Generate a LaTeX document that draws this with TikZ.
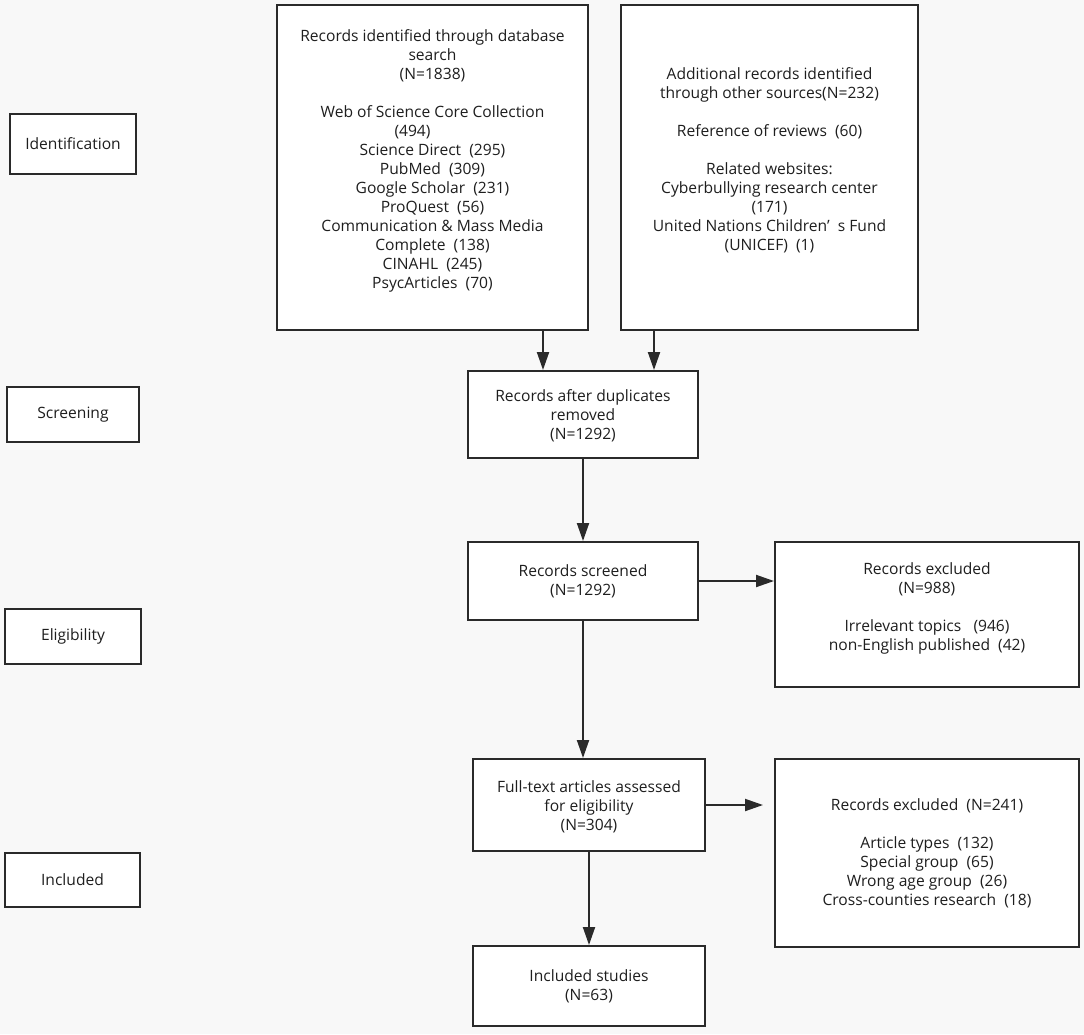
\documentclass[tikz,border=0pt]{standalone}
\usepackage{fontspec}
\setmainfont{Open Sans}
\usetikzlibrary{arrows.meta}
\definecolor{bg}{HTML}{F8F8F8}
\definecolor{ln}{HTML}{2A2A2A}
\definecolor{tx}{HTML}{1E1E1E}
\begin{document}
\begin{tikzpicture}[x=1pt,y=-1pt,
  box/.style={draw=ln, line width=2pt, fill=white, inner sep=0pt, text=tx,
    align=center, font={\fontsize{15.6}{19}\selectfont}},
  txt/.style={text=tx, align=center, inner sep=0pt, font={\fontsize{15.6}{19}\selectfont}},
  arr/.style={draw=ln, line width=2pt, -{Triangle[length=18pt,width=12pt]}}]
\fill[bg] (0,0) rectangle (1084,1034);
\useasboundingbox (0,0) rectangle (1084,1034);
% stage labels
\node[box, minimum width=126pt, minimum height=60pt] (sid) at (73,144) {Identification};
\node[box, minimum width=132pt, minimum height=55pt] (sscr) at (73,414.5) {Screening};
\node[box, minimum width=136pt, minimum height=55pt] (sel) at (73,636.5) {Eligibility};
\node[box, minimum width=135pt, minimum height=54pt] (sinc) at (72.5,880) {Included};
% flow boxes
\node[box, minimum width=311pt, minimum height=325pt] (db) at (432.5,167.5) {};
\node[txt] (dbt) at (432.5,161) {Records identified through database\\search\\(N=1838)\\[19pt]Web of Science Core Collection\\(494)\hspace{40pt}\mbox{}\\Science Direct~~(295)\\PubMed~~(309)\\Google Scholar~~(231)\\ProQuest~~(56)\\Communication \& Mass Media\\Complete~~(138)\\CINAHL~~(245)\\PsycArticles~~(70)};
\node[box, minimum width=297pt, minimum height=325pt] (oth) at (769.5,167.5) {};
\node[txt] (otht) at (769.5,160.5) {Additional records identified\\through other sources(N=232)\\[19pt]Reference of reviews~~(60)\\[19pt]Related websites:\\Cyberbullying research center\\(171)\\United Nations Children’~~s Fund\\(UNICEF)~~(1)};
\node[box, minimum width=230pt, minimum height=87pt] (dup) at (583,414.5) {};
\node[txt] (dupt) at (583,416) {Records after duplicates\\removed\\(N=1292)};
\node[box, minimum width=230pt, minimum height=78pt] (scr) at (583,581) {Records screened\\(N=1292)};
\node[box, minimum width=304pt, minimum height=145pt] (ex1) at (927,614.5) {};
\node[txt] (ex1t) at (927,608) {Records excluded\\(N=988)\\[19pt]Irrelevant topics~~~(946)\\non-English published~~(42)};
\node[box, minimum width=232pt, minimum height=92pt] (full) at (589,805) {};
\node[txt] (fullt) at (589,806.5) {Full-text articles assessed\\for eligibility\\(N=304)};
\node[box, minimum width=304pt, minimum height=188pt] (ex2) at (927,853) {Records excluded~~(N=241)\\[19pt]Article types~~(132)\\Special group~~(65)\\Wrong age group~~(26)\\Cross-counties research~~(18)};
\node[box, minimum width=232pt, minimum height=80pt] (incl) at (589,986) {Included studies\\(N=63)};
% connectors
\draw[arr] ([xshift=110.5pt]db.south) coordinate (a1) -- (a1 |- dup.north);
\draw[arr] ([xshift=-115.5pt]oth.south) coordinate (a2) -- (a2 |- dup.north);
\draw[arr] (dup.south) -- (dup.south |- scr.north);
\draw[arr] (scr.east) -- (scr.east -| ex1.west);
\draw[arr] (scr.south) -- (scr.south |- full.north);
\draw[arr] (full.east) -- ([xshift=-11pt]full.east -| ex2.west);
\draw[arr] (full.south) -- (incl.north);
\end{tikzpicture}
\end{document}
